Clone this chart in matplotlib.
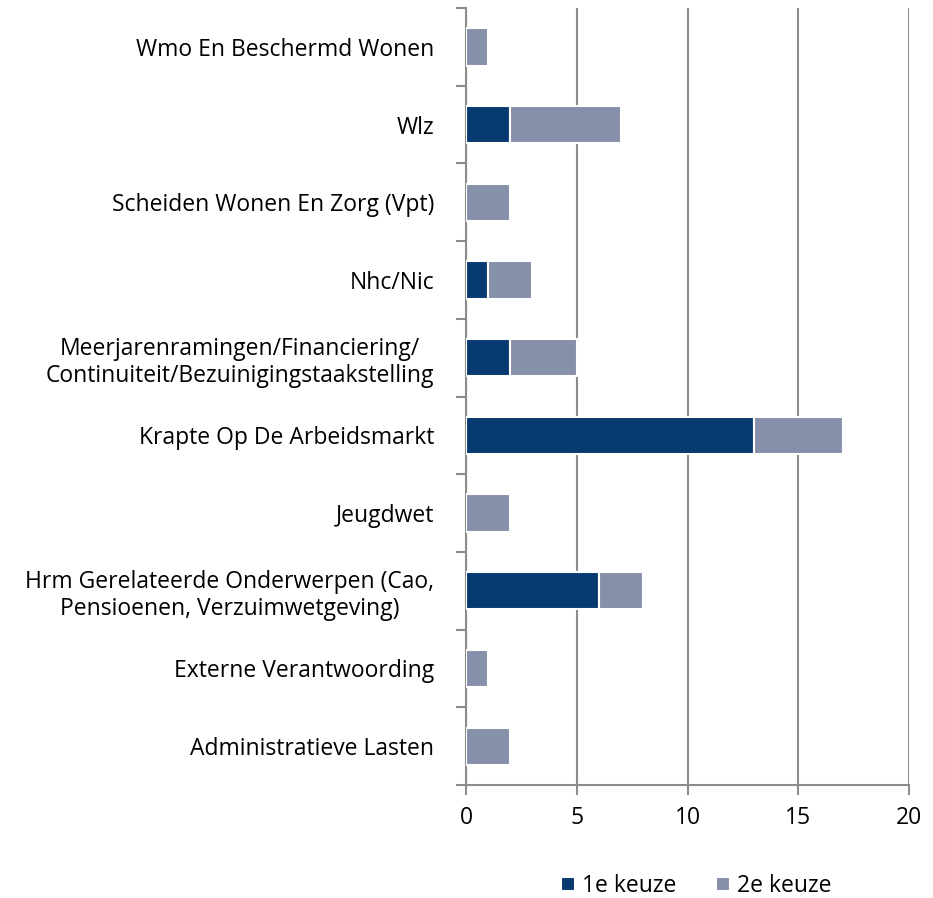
import numpy as np
import matplotlib.pyplot as plt

plt.rcParams['font.family'] = ['Open Sans', 'DejaVu Sans']

# topics, bottom to top
topics = [
    'Administratieve Lasten',
    'Externe Verantwoording',
    'Hrm Gerelateerde Onderwerpen (Cao,\nPensioenen, Verzuimwetgeving)',
    'Jeugdwet',
    'Krapte Op De Arbeidsmarkt',
    'Meerjarenramingen/Financiering/\nContinuiteit/Bezuinigingstaakstelling',
    'Nhc/Nic',
    'Scheiden Wonen En Zorg (Vpt)',
    'Wlz',
    'Wmo En Beschermd Wonen',
]
first_choice = [0, 0, 6, 0, 13, 2, 1, 0, 2, 0]
second_choice = [2, 1, 2, 2, 4, 3, 2, 2, 5, 1]

dark = '#083A72'
light = '#8790AB'
grid = '#8C8C8C'

fig = plt.figure(figsize=(9.33, 8.98), dpi=100)
ax = fig.add_axes([0.4995, 0.1258, 0.4748, 0.8652])

y = np.arange(len(topics))
ax.barh(y, first_choice, height=0.48, color=dark, edgecolor='white',
        linewidth=1.5, label='1e keuze', zorder=3)
ax.barh(y, second_choice, left=first_choice, height=0.48, color=light,
        edgecolor='white', linewidth=1.5, label='2e keuze', zorder=3)

ax.set_xlim(0, 20)
ax.set_ylim(-0.5, len(topics) - 0.5)
ax.set_xticks([0, 5, 10, 15, 20])
ax.xaxis.grid(True, color=grid, linewidth=1.5, zorder=0)
ax.set_axisbelow(True)

# category labels centred between boundary ticks
ax.set_yticks(y)
ax.set_yticklabels(topics, fontsize=16.5, multialignment='center')
ax.set_yticks(np.arange(len(topics) + 1) - 0.5, minor=True)
ax.tick_params(axis='y', which='major', length=0, pad=23)
ax.tick_params(axis='y', which='minor', length=7, width=1.5, color=grid)
ax.tick_params(axis='x', length=7, width=1.5, color=grid, labelsize=16.5, pad=8)

for side in ['top', 'right']:
    ax.spines[side].set_visible(False)
for side in ['left', 'bottom']:
    ax.spines[side].set_color(grid)
    ax.spines[side].set_linewidth(1.5)

ax.legend(loc='center', bbox_to_anchor=(0.52, -0.13), ncol=2, frameon=False,
          fontsize=16.5, handlelength=0.6, handleheight=0.6, columnspacing=1.75,
          handletextpad=0.3)

fig.savefig('out.png', dpi=100)
